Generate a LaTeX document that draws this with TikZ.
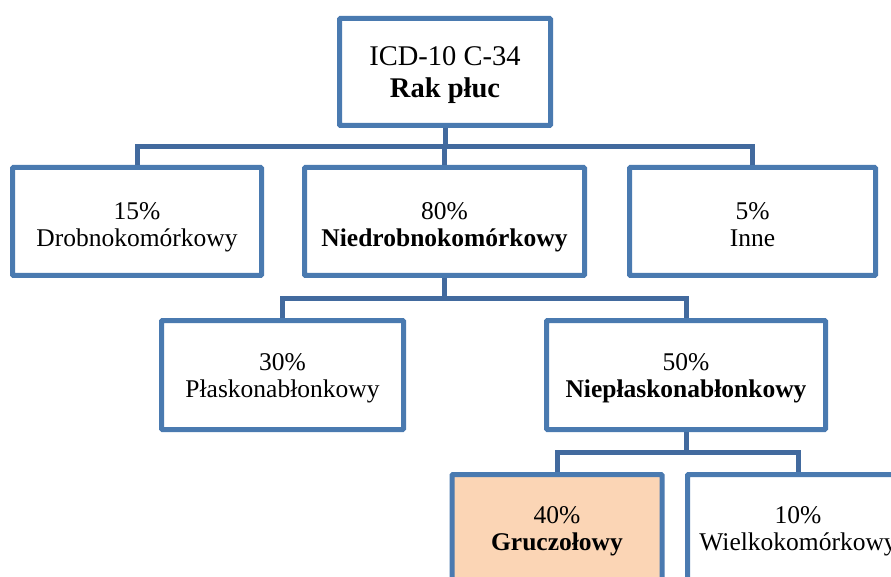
\documentclass[tikz,border=0pt]{standalone}
\usepackage{fontspec}
\setmainfont{Liberation Serif}
\definecolor{boxblue}{RGB}{74,122,176}
\definecolor{linkblue}{RGB}{66,106,158}
\definecolor{peach}{RGB}{251,213,181}
\newcommand{\twolines}[3]{\raisebox{-#1}[\height][\depth]{\begin{tabular}{@{}c@{}}#2\\#3\end{tabular}}}
\begin{document}
\begin{tikzpicture}[x=1pt,y=-1pt,
  box/.style={draw=boxblue, line width=5pt, fill=white, inner sep=0pt,
    rounded corners=1pt, font=\fontsize{25.5}{27}\selectfont},
  topbox/.style={box, font=\fontsize{28.5}{32}\selectfont},
  link/.style={draw=linkblue, line width=5pt}]
\useasboundingbox (0,0) rectangle (891,577);
\clip (0,0) rectangle (891,577);
% top
\node[topbox, minimum width=211pt, minimum height=107pt] (top) at (445,72) {\twolines{3pt}{ICD-10 C-34}{\textbf{Rak płuc}}};
% row 2
\node[box, minimum width=249pt, minimum height=108pt] (drob) at (137,221.5) {\twolines{6pt}{15\%}{Drobnokomórkowy}};
\node[box, minimum width=280pt, minimum height=108pt] (niedrob) at (444.5,221.5) {\twolines{6pt}{80\%}{\textbf{Niedrobnokomórkowy}}};
\node[box, minimum width=246pt, minimum height=108pt] (inne) at (752.5,221.5) {\twolines{6pt}{5\%}{Inne}};
% row 3
\node[box, minimum width=242pt, minimum height=109pt] (plask) at (282.5,375) {\twolines{4pt}{30\%}{Płaskonabłonkowy}};
\node[box, minimum width=279pt, minimum height=109pt] (nieplask) at (686,375) {\twolines{4pt}{50\%}{\textbf{Niepłaskonabłonkowy}}};
% row 4
\node[box, fill=peach, minimum width=210pt, minimum height=108pt] (grucz) at (557,528.5) {\twolines{3pt}{40\%}{\textbf{Gruczołowy}}};
\node[box, minimum width=221pt, minimum height=108pt] (wielko) at (798,528.5) {\twolines{3pt}{10\%}{Wielkokomórkowy}};
% connectors
\coordinate (bus1) at (445,147);
\draw[link] (top.south) -- (bus1);
\draw[link] (drob.north) |- (bus1) -| (inne.north);
\draw[link] (niedrob.north) -- (niedrob.north |- bus1);
\coordinate (bus2) at (444.5,298);
\draw[link] (niedrob.south) -- (bus2);
\draw[link] (plask.north) |- (bus2) -| (nieplask.north);
\coordinate (bus3) at (686,452);
\draw[link] (nieplask.south) -- (bus3);
\draw[link] (grucz.north) |- (bus3) -| (wielko.north);
\end{tikzpicture}
\end{document}
